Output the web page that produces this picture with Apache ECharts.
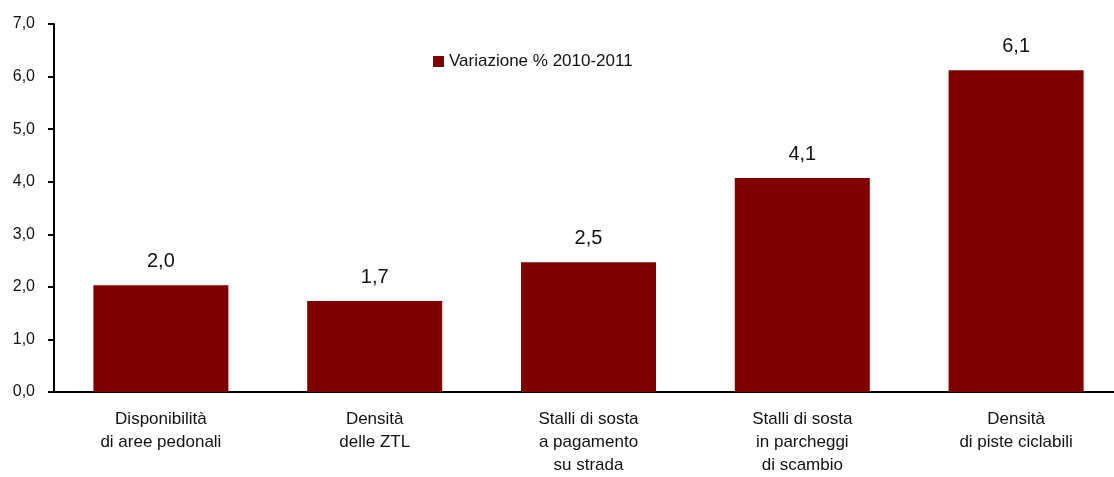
<!DOCTYPE html>
<html>
<head>
<meta charset="utf-8">
<script src="https://cdn.jsdelivr.net/npm/echarts@6/dist/echarts.min.js"></script>
<style>
  html, body { margin: 0; padding: 0; background: #fff; overflow: hidden; }
  #main { width: 1130px; height: 477px; }
</style>
</head>
<body>
<div id="main"></div>
<script>
var categories = [
    'Disponibilità\ndi aree pedonali',
    'Densità\ndelle ZTL',
    'Stalli di sosta\na pagamento\nsu strada',
    'Stalli di sosta\nin parcheggi\ndi scambio',
    'Densità\ndi piste ciclabili'
];
// valori (etichette arrotondate a 1 decimale)
var values = [2.03, 1.73, 2.47, 4.07, 6.12];
var seriesName = 'Variazione % 2010-2011';

var fmt = function (v) { return v.toFixed(1).replace('.', ','); };

// il grafico originale è tagliato a destra: il div è più largo della finestra
var myChart = echarts.init(document.getElementById('main'));
var option = {
    animation: false,
    textStyle: { fontFamily: 'Liberation Sans, Arial, sans-serif', color: '#111' },
    grid: { left: 54, top: 24, bottom: 83, width: 1069, containLabel: false },
    legend: {
        data: [seriesName],
        left: 428,
        top: 48,
        itemWidth: 11,
        itemHeight: 11,
        itemGap: 5,
        icon: 'rect',
        textStyle: { fontSize: 17, color: '#111' }
    },
    xAxis: {
        type: 'category',
        data: categories,
        axisLine: { lineStyle: { color: '#000', width: 2 } },
        axisTick: { show: false },
        axisLabel: { fontSize: 17, color: '#111', lineHeight: 23, margin: 16, interval: 0 }
    },
    yAxis: {
        type: 'value',
        min: 0,
        max: 7,
        interval: 1,
        splitLine: { show: false },
        axisLine: { show: true, lineStyle: { color: '#000', width: 2 } },
        axisTick: { show: true, length: 6, lineStyle: { color: '#000', width: 2 } },
        axisLabel: { fontSize: 16, color: '#111', margin: 19, formatter: fmt }
    },
    series: [{
        name: seriesName,
        type: 'bar',
        data: values,
        barWidth: 135,
        itemStyle: { color: '#800000' },
        label: {
            show: true,
            position: 'top',
            distance: 14,
            fontSize: 20,
            color: '#111',
            formatter: function (p) { return fmt(p.value); }
        }
    }]
};
myChart.setOption(option);
</script>
</body>
</html>
